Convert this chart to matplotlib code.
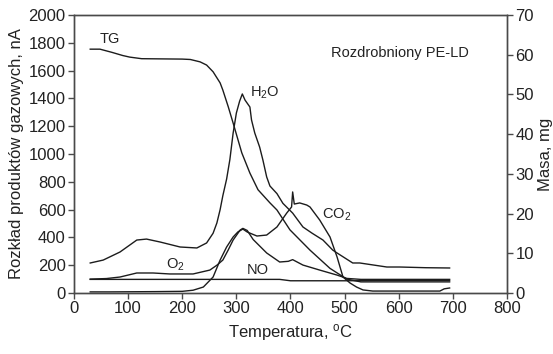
import matplotlib
matplotlib.use("Agg")
import matplotlib.pyplot as plt

plt.rcParams['font.family'] = ['Liberation Sans', 'DejaVu Sans']
plt.rcParams['mathtext.fontset'] = 'custom'
plt.rcParams['mathtext.rm'] = 'Liberation Sans'
plt.rcParams['mathtext.it'] = 'Liberation Sans:italic'

# --- data ---
h2o_T = [30, 54, 85, 116, 134, 159, 196, 227, 245, 257, 264, 270, 275, 282, 288, 294, 300, 306, 311,
         316, 325, 328, 334, 343, 349, 356, 362, 375, 386, 404, 423, 440, 460, 478, 486, 515, 528,
         578, 602, 650, 694]
h2o_V = [216, 237, 295, 381, 388, 367, 331, 324, 360, 430, 504, 600, 700, 820, 960, 1150, 1295, 1380, 1432,
         1388, 1338, 1245, 1151, 1050, 957, 835, 770, 715, 645, 575, 475, 430, 381, 309, 288, 216, 216,
         187, 187, 182, 180]

co2_T = [30, 66, 150, 200, 220, 239, 257, 270, 282, 294, 303, 312, 320, 338, 356, 375, 393, 402, 404,
         407, 417, 430, 436, 454, 473, 486, 497, 510, 522, 534, 552, 600, 676, 684, 694]
co2_V = [8, 8, 10, 12, 20, 43, 115, 237, 331, 403, 440, 460, 439, 410, 417, 475, 575, 619, 727,
         640, 648, 633, 619, 525, 403, 260, 115, 72, 43, 22, 14, 14, 14, 30, 36]

o2_T = [30, 60, 85, 116, 146, 177, 220, 251, 264, 275, 285, 294, 307, 312, 320, 331, 356, 380, 396,
        404, 423, 454, 486, 504, 530, 600, 694]
o2_V = [100, 104, 115, 144, 144, 137, 137, 165, 200, 237, 310, 381, 453, 465, 450, 385, 288, 223, 228,
        240, 201, 165, 129, 105, 98, 98, 98]

no_T = [30, 380, 400, 500, 560, 694]
no_V = [98, 98, 88, 88, 90, 90]

tg_T = [30, 48, 70, 90, 103, 125, 200, 215, 233, 245, 257, 270, 275, 285, 294, 310, 325, 340, 362,
        375, 399, 436, 473, 504, 530, 694]
tg_V = [61.4, 61.4, 60.6, 59.8, 59.4, 59.0, 58.9, 58.8, 58.2, 57.4, 55.7, 52.9, 51.1, 46.9, 42.8, 35.3,
        30.2, 26.0, 22.7, 20.9, 15.9, 10.8, 6.2, 3.5, 2.8, 2.8]

x_ticks = [0, 100, 200, 300, 400, 500, 600, 700, 800]
y_ticks = [0, 200, 400, 600, 800, 1000, 1200, 1400, 1600, 1800, 2000]
y2_ticks = [0, 10, 20, 30, 40, 50, 60, 70]

line_c = '#1c1c1c'
spine_c = '#4a4a4a'
txt_c = '#222222'

fig = plt.figure(figsize=(5.53, 3.54), dpi=100)
ax = fig.add_axes([0.1338, 0.1723, 0.7830, 0.7853])
ax2 = ax.twinx()

lw = 1.0
ax.plot(h2o_T, h2o_V, color=line_c, lw=lw)
ax.plot(co2_T, co2_V, color=line_c, lw=lw)
ax.plot(o2_T, o2_V, color=line_c, lw=lw)
ax.plot(no_T, no_V, color=line_c, lw=lw)
ax2.plot(tg_T, tg_V, color=line_c, lw=lw)

ax.set_xlim(0, 800)
ax.set_ylim(0, 2000)
ax2.set_ylim(0, 70)
ax.set_xticks(x_ticks)
ax.set_yticks(y_ticks)
ax2.set_yticks(y2_ticks)

for a in (ax, ax2):
    for s in a.spines.values():
        s.set_color(spine_c)
        s.set_linewidth(1.0)
    a.tick_params(direction='out', length=4, width=1.0, color=spine_c,
                  labelsize=12, labelcolor=txt_c, pad=2)

ax.set_xlabel('Temperatura, $^{\\mathrm{o}}$C', fontsize=12, color=txt_c, labelpad=4)
ax.set_ylabel('Rozkład produktów gazowych, nA', fontsize=12, color=txt_c, labelpad=3)
ax2.set_ylabel('Masa, mg', fontsize=12, color=txt_c, labelpad=3)

fs = 10.5
ax.text(66, 1827, 'TG', fontsize=fs, color=txt_c, ha='center', va='center')
ax.text(353, 1439, 'H$_2$O', fontsize=fs, color=txt_c, ha='center', va='center')
ax.text(486, 561, 'CO$_2$', fontsize=fs, color=txt_c, ha='center', va='center')
ax.text(187, 201, 'O$_2$', fontsize=fs, color=txt_c, ha='center', va='center')
ax.text(340, 165, 'NO', fontsize=fs, color=txt_c, ha='center', va='center')
ax.text(602, 1727, 'Rozdrobniony PE-LD', fontsize=fs, color=txt_c, ha='center', va='center')

fig.savefig('out.png', dpi=100)
